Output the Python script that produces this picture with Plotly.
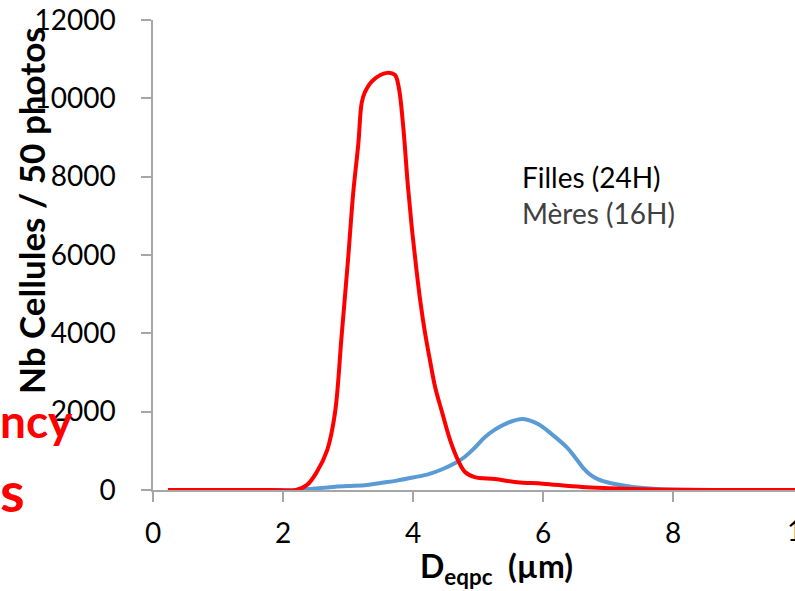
import plotly.graph_objects as go

# Size distributions (equivalent circle diameter, µm) -> cell counts over 50 photos
filles_x = [0.23, 1.0, 1.8, 2.2, 2.37, 2.52, 2.68, 2.8, 2.9, 3.0, 3.08, 3.16, 3.21, 3.26,
            3.39, 3.6, 3.72, 3.78, 3.85, 3.92, 3.985, 4.05, 4.11, 4.185, 4.26, 4.34, 4.45,
            4.57, 4.69, 4.8, 4.95, 5.26, 5.6, 6.0, 6.6, 7.4, 8.0, 9.0, 10.0]
filles_y = [0, 0, 0, 0, 130, 460, 1020, 1970, 3900, 5870, 7580, 8860, 9880, 10160,
            10470, 10650, 10600, 10290, 9270, 7790, 6640, 5670, 4850, 4010, 3320, 2630, 1970,
            1280, 770, 460, 330, 280, 200, 160, 77, 25, 5, 0, 0]

meres_x = [0.23, 1.0, 1.8, 2.26, 2.5, 2.77, 3.0, 3.29, 3.55, 3.75, 4.0, 4.23, 4.45, 4.65,
           4.8, 4.95, 5.1, 5.26, 5.45, 5.69, 5.95, 6.1, 6.36, 6.5, 6.62, 6.72, 6.85,
           7.03, 7.38, 7.75, 8.2, 9.0, 10.0]
meres_y = [0, 0, 0, 0, 40, 77, 100, 128, 190, 240, 320, 400, 530, 690,
           850, 1080, 1340, 1540, 1710, 1813, 1660, 1470, 1100, 820, 560, 400, 270,
           179, 77, 25, 5, 0, 0]

x_ticks = [0, 2, 4, 6, 8]
y_ticks = [0, 2000, 4000, 6000, 8000, 10000, 12000]
y_tick_text = ["0", "2000", "4000", "6000", "8000", "10000", "12000"]

W, H = 795, 591
L, R, T, B = 153, 0, 20, 101
PW, PH = W - L - R, H - T - B
X_UNIT = 65.0  # pixels per µm

def px_x(p):
    return (p - L) / PW

def px_y(p):
    return (H - B - p) / PH

FONT = "Lato"
AXIS_GRAY = "#A6A6A6"
TICK_SIZE = 28

fig = go.Figure()
fig.add_trace(go.Scatter(x=meres_x, y=meres_y, mode="lines", name="Mères (16H)",
                         line=dict(color="#5B9BD5", width=4, shape="spline", smoothing=1.0)))
fig.add_trace(go.Scatter(x=filles_x, y=filles_y, mode="lines", name="Filles (24H)",
                         line=dict(color="#FF0000", width=4, shape="spline", smoothing=1.0)))

fig.update_layout(
    width=W, height=H,
    margin=dict(l=L, r=R, t=T, b=B, pad=0),
    paper_bgcolor="white", plot_bgcolor="white",
    showlegend=False,
    font=dict(family=FONT, size=TICK_SIZE, color="black"),
    xaxis=dict(range=[0, PW / X_UNIT], tickvals=x_ticks, ticks="outside", ticklen=10,
               tickcolor=AXIS_GRAY, tickwidth=1.5, showline=True, linecolor=AXIS_GRAY,
               linewidth=1.5, showgrid=False, zeroline=False, ticklabelstandoff=8,
               tickfont=dict(family=FONT, size=TICK_SIZE, color="black")),
    yaxis=dict(range=[0, 12000], tickvals=y_ticks, ticktext=y_tick_text, ticks="outside",
               ticklen=10, tickcolor=AXIS_GRAY, tickwidth=1.5, showline=True,
               linecolor=AXIS_GRAY, linewidth=1.5, showgrid=False, zeroline=False,
               ticklabelstandoff=20,
               tickfont=dict(family=FONT, size=TICK_SIZE, color="black")),
)

annotations = [
    # "10" tick label sitting at the right edge of the canvas
    dict(text="10", xref="paper", yref="paper", x=px_x(L + 10 * X_UNIT), y=px_y(530),
         xanchor="center", yanchor="middle",
         font=dict(family=FONT, size=TICK_SIZE, color="black")),
    dict(text="Filles (24H)", xref="paper", yref="paper", x=px_x(520), y=px_y(177),
         xanchor="left", yanchor="middle", font=dict(family=FONT, size=28, color="black")),
    dict(text="Mères (16H)", xref="paper", yref="paper", x=px_x(520), y=px_y(213),
         xanchor="left", yanchor="middle", font=dict(family=FONT, size=28, color="#404040")),
    dict(text="<b>Nb Cellules / 50 photos</b>", xref="paper", yref="paper",
         x=px_x(31), y=px_y(211), textangle=-90, xanchor="center", yanchor="middle",
         font=dict(family=FONT, size=35, color="black")),
    dict(text="<b>D<sub>eqpc</sub>  (µm)</b>", xref="paper", yref="paper",
         x=px_x(496), y=px_y(568), xanchor="center", yanchor="middle",
         font=dict(family=FONT, size=32, color="black")),
    dict(text="<b>ncy</b>", xref="paper", yref="paper", x=px_x(-2), y=px_y(420),
         xanchor="left", yanchor="middle", font=dict(family=FONT, size=46, color="#FF0000")),
    dict(text="<b>s</b>", xref="paper", yref="paper", x=px_x(-2), y=px_y(490),
         xanchor="left", yanchor="middle", font=dict(family=FONT, size=56, color="#FF0000")),
]
for a in annotations:
    a["showarrow"] = False
fig.update_layout(annotations=annotations)

fig.write_html("out.html")
